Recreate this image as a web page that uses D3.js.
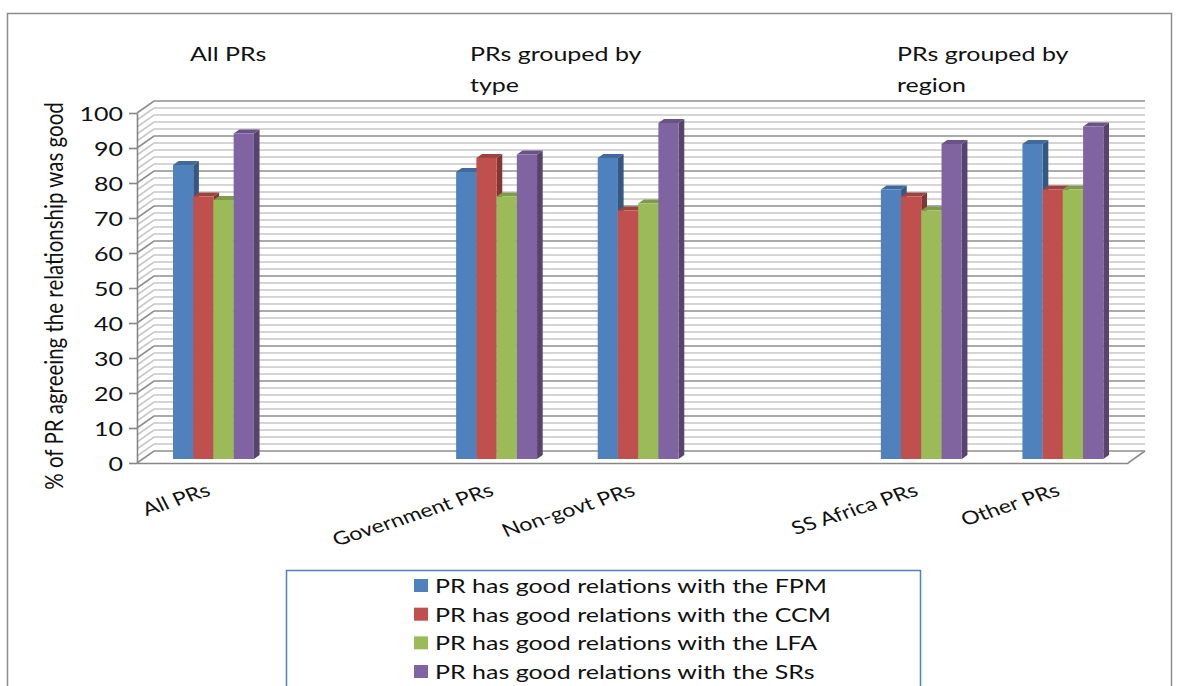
<!DOCTYPE html>
<html>
<head>
<meta charset="utf-8">
<script src="https://cdn.jsdelivr.net/npm/d3@7"></script>
<style>
  body { margin: 0; background: #fff; }
  svg { display: block; }
  text { font-family: Lato, "Open Sans", sans-serif; fill: #111; }
</style>
</head>
<body>
<svg id="chart" width="1180" height="686"></svg>
<script>
// ---- data ----
const categories = ["All PRs", "", "Government PRs", "Non-govt PRs", "", "SS Africa PRs", "Other PRs"];
const seriesNames = [
  "PR has good relations with the FPM",
  "PR has good relations with the CCM",
  "PR has good relations with the LFA",
  "PR has good relations with the SRs"
];
const fpmValues = [84, null, 82, 86, null, 77, 90];
const ccmValues = [75, null, 86, 71, null, 75, 77];
const lfaValues = [74, null, 75, 73, null, 71, 77];
const srValues  = [93, null, 87, 96, null, 90, 95];
const yTickValues = [0, 10, 20, 30, 40, 50, 60, 70, 80, 90, 100];
const groupTitles = [["All PRs"], ["PRs grouped by", "type"], ["PRs grouped by", "region"]];
const yAxisTitle = "% of PR agreeing the relationship was good";

// ---- layout & style ----
const seriesValues = [fpmValues, ccmValues, lfaValues, srValues];
const seriesColors = ["#4f81bd", "#c0504d", "#9bbb59", "#8064a2"];
const SX = 1.25;                 // horizontal glyph stretch of all text
const plot = { left: 137, right: 1128, top: 113, bottom: 463 };
const DX = 17, DY = -12;         // depth of the 3-D box (front -> back wall)
const titleAnchors = [[190, 61], [470, 61], [897, 61]];
const titleLineGap = 31;

const svg = d3.select("#chart");

const x0 = d3.scaleBand().domain(d3.range(categories.length))
  .range([plot.left, plot.right]).paddingInner(0).paddingOuter(0);
const x1 = d3.scaleBand().domain(d3.range(seriesNames.length))
  .range([0, x0.bandwidth()]).paddingInner(0).paddingOuter(1.5);
const y = d3.scaleLinear().domain([0, 100]).range([plot.bottom, plot.top]);

// stretched text helper
function stretchedText(parent, x, y0, str, size, opts = {}) {
  const g = parent.append("g")
    .attr("transform", `translate(${x},${y0}) scale(${SX},1)` + (opts.rotate ? ` rotate(${opts.rotate})` : ""));
  const t = g.append("text").text(str).attr("font-size", size)
    .attr("text-anchor", opts.anchor || "start");
  if (opts.baseline) t.attr("dominant-baseline", opts.baseline);
  return t;
}

// outer chart frame
svg.append("rect")
  .attr("x", 7.5).attr("y", 13.5).attr("width", 1164).attr("height", 700)
  .attr("fill", "none").attr("stroke", "#8c8c8c").attr("stroke-width", 1.5);

// walls gridlines: side wall diagonals + back wall horizontals
const gridValues = d3.range(0, 101, 2);
const grid = svg.append("g").attr("fill", "none").attr("stroke-width", 1.6);
const gridPath = v => `M${plot.left},${y(v)}L${plot.left + DX},${y(v) + DY}L${plot.right + DX},${y(v) + DY}`;
grid.selectAll(".minor").data(gridValues.filter(v => v % 10 !== 0)).join("path")
  .attr("class", "minor").attr("d", gridPath).attr("stroke", "#c8c8c8");
grid.selectAll(".major").data(gridValues.filter(v => v % 10 === 0)).join("path")
  .attr("class", "major").attr("d", gridPath).attr("stroke", "#8e8e8e");

// floor right edge
svg.append("path")
  .attr("d", `M${plot.right},${y(0)}L${plot.right + DX},${y(0) + DY}`)
  .attr("fill", "none").attr("stroke", "#8e8e8e").attr("stroke-width", 1.6);

// value axis
const yAxis = svg.append("g").attr("transform", `translate(${plot.left},0)`)
  .call(d3.axisLeft(y).tickValues(yTickValues).tickSize(8).tickSizeOuter(0).tickPadding(0));
yAxis.select(".domain").attr("stroke", "#868686").attr("stroke-width", 1.6);
yAxis.selectAll(".tick line").attr("stroke", "#868686").attr("stroke-width", 1.6);
yAxis.selectAll(".tick text")
  .attr("font-size", 20).attr("font-family", "Lato, sans-serif").attr("fill", "#111")
  .attr("x", -14 / SX).attr("dy", "0.36em")
  .attr("transform", `scale(${SX},1)`);

// category axis
const xAxis = svg.append("g").attr("transform", `translate(0,${y(0)})`)
  .call(d3.axisBottom(x0).tickSize(0).tickFormat(() => ""));
xAxis.select(".domain").attr("stroke", "#868686").attr("stroke-width", 1.6);

const labelAngle = -Math.atan(Math.tan(18 * Math.PI / 180) * SX) * 180 / Math.PI;
const catLabels = svg.append("g");
categories.forEach((c, i) => {
  if (!c) return;
  stretchedText(catLabels, x0(i) + x0.bandwidth() / 2 + 4, 495, c, 18.5,
    { anchor: "end", rotate: labelAngle });
});

// 3-D bars (front plane at 1/3 depth, back at 2/3)
const bdx = DX / 3, bdy = DY / 3;
const bars = svg.append("g");
categories.forEach((c, i) => {
  seriesValues.forEach((vals, j) => {
    const v = vals[i];
    if (v == null) return;
    const col = d3.color(seriesColors[j]);
    const xl = x0(i) + x1(j) + bdx, xr = xl + x1.bandwidth();
    const yt = y(v) + bdy, yb = y(0) + bdy;
    const g = bars.append("g");
    g.append("path")
      .attr("d", `M${xr},${yt}L${xr + bdx},${yt + bdy}L${xr + bdx},${yb + bdy}L${xr},${yb}Z`)
      .attr("fill", col.darker(1.1));
    g.append("path")
      .attr("d", `M${xl},${yt}L${xl + bdx},${yt + bdy}L${xr + bdx},${yt + bdy}L${xr},${yt}Z`)
      .attr("fill", col.darker(0.55));
    g.append("rect")
      .attr("x", xl).attr("y", yt).attr("width", xr - xl).attr("height", yb - yt)
      .attr("fill", col);
  });
});

// group titles
const titles = svg.append("g");
groupTitles.forEach((lines, k) => {
  lines.forEach((ln, li) => {
    stretchedText(titles, titleAnchors[k][0], titleAnchors[k][1] + li * titleLineGap, ln, 20);
  });
});

// value axis title
stretchedText(svg, 53, 296, yAxisTitle, 20.5, { anchor: "middle", baseline: "central", rotate: -90 });

// legend
const legend = svg.append("g");
legend.append("rect")
  .attr("x", 286.5).attr("y", 570.5).attr("width", 634).attr("height", 140)
  .attr("fill", "#fff").attr("stroke", "#4f81bd").attr("stroke-width", 1.5);
const legendRowY = d3.scalePoint().domain(d3.range(seriesNames.length)).range([585.5, 671.5]);
seriesNames.forEach((name, j) => {
  const cy = legendRowY(j);
  legend.append("rect")
    .attr("x", 414).attr("y", cy - 6.5).attr("width", 14).attr("height", 13)
    .attr("fill", seriesColors[j]);
  stretchedText(legend, 435, cy, name, 20, { baseline: "central" });
});
</script>
</body>
</html>
